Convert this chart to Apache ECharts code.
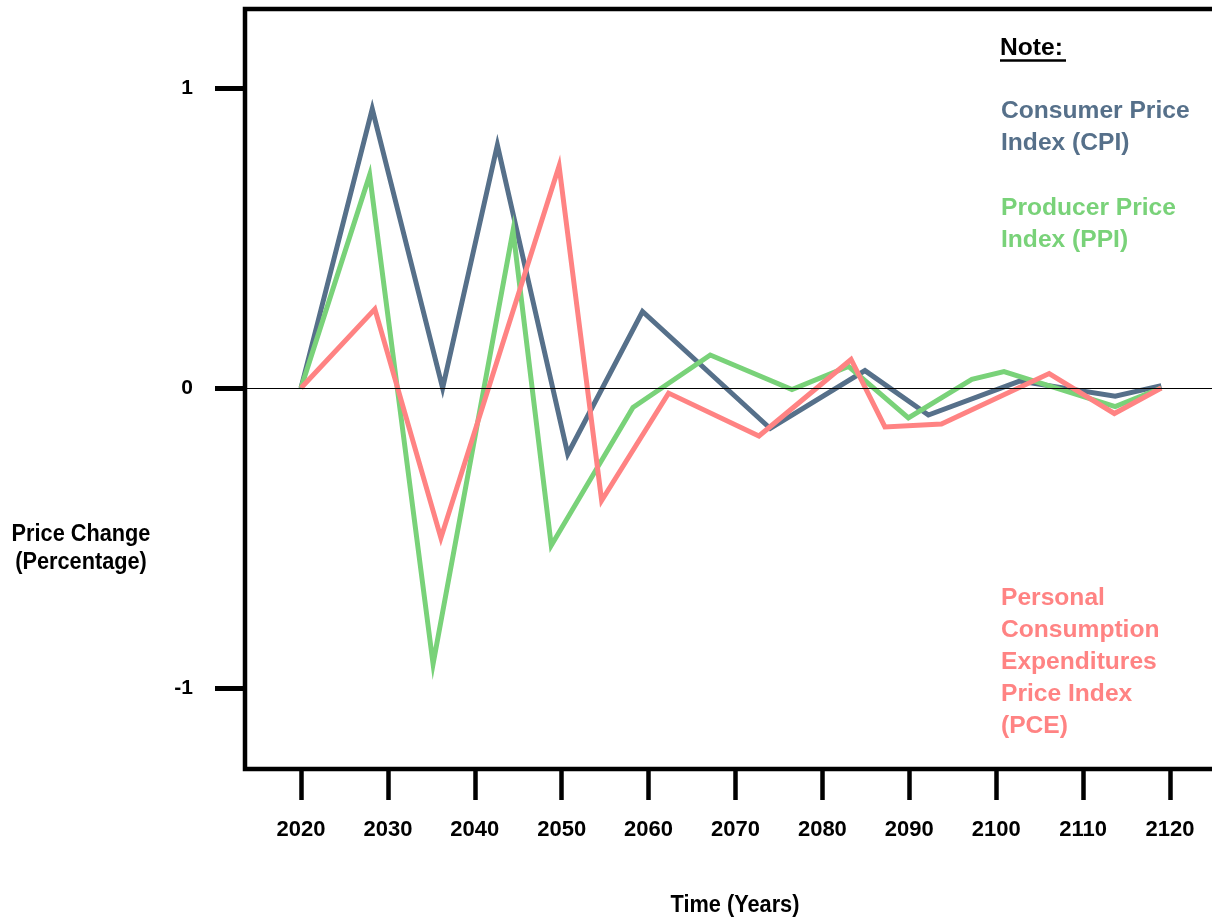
<!DOCTYPE html>
<html>
<head>
<meta charset="utf-8">
<script src="https://cdn.jsdelivr.net/npm/echarts@6/dist/echarts.min.js"></script>
<style>
  html, body { margin: 0; padding: 0; background: #ffffff; }
  #chart { width: 1212px; height: 918px; }
</style>
</head>
<body>
<div id="chart"></div>
<script>
// ---- data ----
const xTickLabels = [2020, 2030, 2040, 2050, 2060, 2070, 2080, 2090, 2100, 2110, 2120];
const yTickLabels = [-1, 0, 1];

const cpiYears  = [2020, 2028.2, 2036.3, 2042.6, 2050.7, 2059.3, 2074.0, 2084.9, 2092.2, 2102.7, 2113.7, 2119];
const cpiValues = [0, 0.93, 0.0, 0.81, -0.22, 0.255, -0.135, 0.058, -0.09, 0.023, -0.027, 0.008];

const ppiYears  = [2020, 2027.9, 2035.2, 2044.4, 2048.8, 2058.2, 2067.1, 2076.5, 2083.0, 2089.9, 2097.2, 2100.9, 2113.7, 2119];
const ppiValues = [0, 0.71, -0.92, 0.525, -0.525, -0.065, 0.11, -0.005, 0.072, -0.1, 0.029, 0.055, -0.062, 0];

const pceYears  = [2020, 2028.5, 2036.1, 2049.7, 2054.6, 2062.3, 2072.7, 2083.3, 2087.2, 2093.7, 2106.1, 2113.6, 2119];
const pceValues = [0, 0.263, -0.5, 0.74, -0.375, -0.017, -0.16, 0.095, -0.13, -0.12, 0.048, -0.085, 0];

const seriesNames = ['Consumer Price Index (CPI)', 'Producer Price Index (PPI)', 'Personal Consumption Expenditures Price Index (PCE)'];
const colors = { cpi: '#56708a', ppi: '#79d279', pce: '#ff8383' };

function pairs(xs, ys) { return xs.map((x, i) => [x, ys[i]]); }

const textFont = '"Liberation Sans", Arial, sans-serif';

const chart = echarts.init(document.getElementById('chart'), null, { renderer: 'canvas' });

function lineSeries(name, xs, ys, color) {
  return {
    name: name,
    type: 'line',
    data: pairs(xs, ys),
    showSymbol: false,
    symbol: 'none',
    z: 3,
    lineStyle: { color: color, width: 5, join: 'miter', miterLimit: 10 },
    animation: false
  };
}

const option = {
  animation: false,
  backgroundColor: '#ffffff',
  grid: {
    left: 245, top: 9, right: -28, bottom: 149,
    show: true, borderColor: '#000000', borderWidth: 4.5,
    backgroundColor: 'transparent',
    containLabel: false,
    outerBoundsMode: 'none'
  },
  xAxis: {
    type: 'value',
    min: 2013.556,
    max: 2128.06,
    axisLine: { show: false, onZero: false },
    splitLine: { show: false },
    axisTick: { show: true, length: 31, lineStyle: { color: '#000', width: 4.5 }, customValues: xTickLabels },
    axisLabel: {
      show: true, margin: 50, customValues: xTickLabels,
      formatter: v => String(v),
      color: '#000', fontFamily: textFont, fontWeight: 'bold', fontSize: 22
    }
  },
  yAxis: {
    type: 'value',
    min: -1.27,
    max: 1.2633,
    axisLine: { show: false, onZero: false },
    splitLine: { show: false },
    axisTick: { show: true, length: 30, lineStyle: { color: '#000', width: 5 }, customValues: yTickLabels },
    axisLabel: {
      show: true, margin: 52, customValues: yTickLabels,
      formatter: v => String(v),
      color: '#000', fontFamily: textFont, fontWeight: 'bold', fontSize: 21
    }
  },
  series: [
    {
      name: 'zero',
      type: 'line',
      data: [],
      z: 1,
      markLine: {
        silent: true,
        symbol: 'none',
        label: { show: false },
        lineStyle: { color: '#000', width: 1.2, type: 'solid' },
        data: [{ yAxis: 0 }],
        animation: false
      }
    },
    lineSeries(seriesNames[0], cpiYears, cpiValues, colors.cpi),
    lineSeries(seriesNames[1], ppiYears, ppiValues, colors.ppi),
    lineSeries(seriesNames[2], pceYears, pceValues, colors.pce)
  ],
  graphic: [
    {
      type: 'text', x: 81, y: 548, scaleX: 0.88,
      style: {
        text: 'Price Change\n(Percentage)', fill: '#000',
        fontFamily: textFont, fontWeight: 'bold', fontSize: 24.7, lineHeight: 28,
        textAlign: 'center', textVerticalAlign: 'middle'
      }
    },
    {
      type: 'text', x: 735, y: 905, scaleX: 0.88,
      style: {
        text: 'Time (Years)', fill: '#000',
        fontFamily: textFont, fontWeight: 'bold', fontSize: 24.7,
        textAlign: 'center', textVerticalAlign: 'middle'
      }
    },
    {
      type: 'text', x: 1000, y: 48,
      style: {
        text: 'Note:', fill: '#000',
        fontFamily: textFont, fontWeight: 'bold', fontSize: 24.6,
        textAlign: 'left', textVerticalAlign: 'middle'
      }
    },
    {
      type: 'line',
      shape: { x1: 1000, y1: 60.5, x2: 1066, y2: 60.5 },
      style: { stroke: '#000', lineWidth: 2.5 }
    },
    {
      type: 'text', x: 1001, y: 127,
      style: {
        text: 'Consumer Price\nIndex (CPI)', fill: colors.cpi,
        fontFamily: textFont, fontWeight: 'bold', fontSize: 24.6, lineHeight: 32,
        textAlign: 'left', textVerticalAlign: 'middle'
      }
    },
    {
      type: 'text', x: 1001, y: 224,
      style: {
        text: 'Producer Price\nIndex (PPI)', fill: colors.ppi,
        fontFamily: textFont, fontWeight: 'bold', fontSize: 24.6, lineHeight: 32,
        textAlign: 'left', textVerticalAlign: 'middle'
      }
    },
    {
      type: 'text', x: 1001, y: 662,
      style: {
        text: 'Personal\nConsumption\nExpenditures\nPrice Index\n(PCE)', fill: colors.pce,
        fontFamily: textFont, fontWeight: 'bold', fontSize: 24.6, lineHeight: 32,
        textAlign: 'left', textVerticalAlign: 'middle'
      }
    }
  ]
};

chart.setOption(option);
</script>
</body>
</html>
